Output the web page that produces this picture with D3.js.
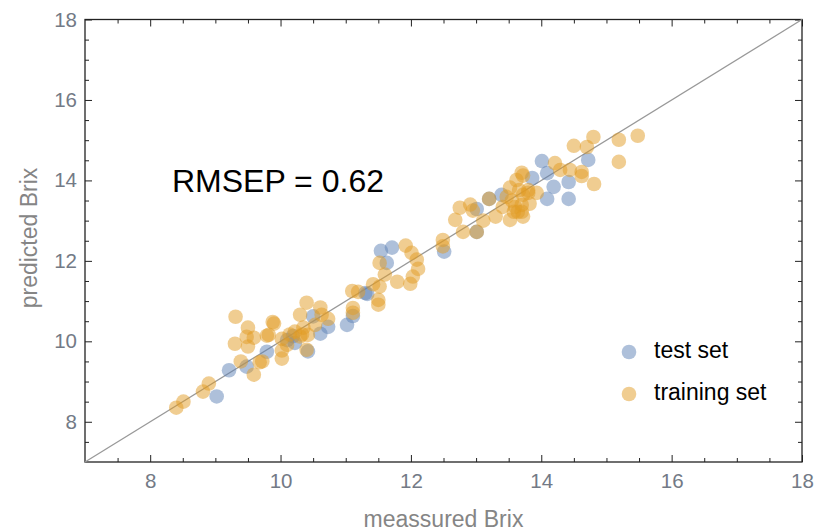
<!DOCTYPE html>
<html>
<head>
<meta charset="utf-8">
<script src="https://cdn.jsdelivr.net/npm/d3@7"></script>
<style>
  html, body { margin: 0; padding: 0; background: #fff; }
  svg { display: block; font-family: "Liberation Sans", Arial, sans-serif; }
</style>
</head>
<body>
<svg id="chart" width="825" height="531"></svg>
<script>
// ---- data ----
const testSet = [
  [9.02,8.63],[9.21,9.28],[9.48,9.37],[9.79,9.74],[10.10,10.03],[10.19,10.13],[10.22,9.96],
  [10.42,9.75],[10.50,10.62],[10.61,10.19],[10.73,10.36],[11.02,10.41],[11.11,10.63],
  [11.30,11.20],[11.33,11.18],[11.63,11.95],[11.54,12.25],[11.71,12.33],[12.51,12.23],
  [13.01,12.72],[13.01,13.29],[13.20,13.54],[13.39,13.64],[13.86,14.06],[14.01,14.48],
  [14.09,14.18],[14.09,13.54],[14.19,13.84],[14.42,13.96],[14.42,13.54],[14.72,14.51]
];
const trainingSet = [
  [8.40,8.35],[8.51,8.50],[8.81,8.75],[8.90,8.95],
  [9.31,10.61],[9.30,9.94],[9.50,10.34],[9.50,9.87],[9.48,10.11],[9.59,10.09],
  [9.39,9.50],[9.59,9.17],[9.68,9.48],[9.72,9.50],[9.79,10.14],[9.82,10.16],
  [9.88,10.48],[9.90,10.44],[10.02,10.06],[10.02,9.77],[10.02,9.57],[10.10,9.91],
  [10.22,10.24],[10.30,10.66],[10.33,10.17],[10.30,10.12],[10.35,10.34],[10.40,10.96],
  [10.42,10.16],[10.40,9.79],[10.53,10.41],[10.61,10.84],[10.63,10.66],[10.73,10.56],[10.14,10.17],
  [11.10,11.25],[11.19,11.23],[11.11,10.83],[11.11,10.71],
  [11.42,11.42],[11.52,11.36],[11.50,11.03],[11.50,10.91],[11.60,11.66],[11.52,11.95],
  [11.79,11.48],[11.99,11.43],[12.03,11.61],[11.92,12.38],[12.01,12.20],[12.09,12.03],[12.11,11.80],
  [12.49,12.52],[12.49,12.36],
  [12.68,13.02],[12.80,12.72],[12.75,13.32],[12.91,13.40],[12.95,13.25],[13.01,12.72],[13.11,13.00],[13.20,13.54],
  [13.30,13.10],[13.41,13.34],[13.47,13.59],[13.52,13.82],[13.52,13.02],[13.58,13.22],[13.60,13.34],[13.62,14.01],
  [13.70,14.19],[13.72,14.12],[13.80,13.76],[13.72,13.64],[13.70,13.39],[13.82,13.42],[13.70,13.22],[13.64,13.22],
  [13.93,13.69],[13.72,13.10],[13.80,13.69],[13.66,13.76],[13.55,13.50],
  [14.21,14.43],[14.29,14.26],[14.44,14.26],[14.50,14.86],[14.80,15.08],[14.70,14.83],[14.62,14.21],[14.62,14.11],
  [14.81,13.91],[15.19,15.01],[15.48,15.11],[15.19,14.46]
];
const xMajorTicks = [8, 10, 12, 14, 16, 18];
const yMajorTicks = [8, 10, 12, 14, 16, 18];
const axisDomain = [7, 18];
const seriesNames = ["test set", "training set"];
const seriesColors = ["#5e81b5", "#e19c24"];
const annotation = "RMSEP = 0.62";
const xTitle = "meassured Brix";
const yTitle = "predicted Brix";

// ---- layout ----
const svg = d3.select("#chart");
const L = 85, R = 802, T = 19.5, B = 462;
const x = d3.scaleLinear().domain(axisDomain).range([L, R]);
const y = d3.scaleLinear().domain(axisDomain).range([B, T]);
const minor = d3.range(7.5, 18, 0.5).filter(v => v % 2 !== 0);

const tickColor = "#222";
const labelColor = "#737a86";

function styleAxis(g) {
  g.select(".domain").remove();
  g.selectAll(".tick line").attr("stroke", tickColor).attr("stroke-width", 1);
  g.selectAll(".tick text").attr("fill", labelColor).attr("font-size", 20.5)
    .attr("font-family", "Liberation Sans, Arial, sans-serif");
}

// minor ticks on all four sides (pointing inward)
svg.append("g").attr("transform", `translate(0,${B})`)
  .call(d3.axisBottom(x).tickValues(minor).tickSize(-4).tickFormat("")).call(styleAxis);
svg.append("g").attr("transform", `translate(0,${T})`)
  .call(d3.axisTop(x).tickValues(minor).tickSize(-4).tickFormat("")).call(styleAxis);
svg.append("g").attr("transform", `translate(${L},0)`)
  .call(d3.axisLeft(y).tickValues(minor).tickSize(-4).tickFormat("")).call(styleAxis);
svg.append("g").attr("transform", `translate(${R},0)`)
  .call(d3.axisRight(y).tickValues(minor).tickSize(-4).tickFormat("")).call(styleAxis);

// major ticks
svg.append("g").attr("transform", `translate(0,${B})`)
  .call(d3.axisBottom(x).tickValues(xMajorTicks).tickSize(-7).tickPadding(11).tickFormat(d3.format("d")))
  .call(styleAxis);
svg.append("g").attr("transform", `translate(0,${T})`)
  .call(d3.axisTop(x).tickValues(xMajorTicks).tickSize(-7).tickFormat("")).call(styleAxis);
svg.append("g").attr("transform", `translate(${L},0)`)
  .call(d3.axisLeft(y).tickValues(yMajorTicks).tickSize(-7).tickPadding(8).tickFormat(d3.format("d")))
  .call(styleAxis);
svg.append("g").attr("transform", `translate(${R},0)`)
  .call(d3.axisRight(y).tickValues(yMajorTicks).tickSize(-7).tickFormat("")).call(styleAxis);

// frame
svg.append("rect").attr("x", L).attr("y", T).attr("width", R - L).attr("height", B - T)
  .attr("fill", "none").attr("stroke", tickColor).attr("stroke-width", 1.3);

// diagonal reference line
svg.append("line")
  .attr("x1", x(axisDomain[0])).attr("y1", y(axisDomain[0]))
  .attr("x2", x(axisDomain[1])).attr("y2", y(axisDomain[1]))
  .attr("stroke", "#999").attr("stroke-width", 1.3);

// points
const r = 7.3, op = 0.5;
[testSet, trainingSet].forEach((data, i) => {
  svg.append("g").selectAll("circle").data(data).join("circle")
    .attr("cx", d => x(d[0])).attr("cy", d => y(d[1])).attr("r", r)
    .attr("fill", seriesColors[i]).attr("fill-opacity", op);
});

// annotation
svg.append("text").attr("x", 172).attr("y", 192).attr("font-size", 32).attr("fill", "#000")
  .text(annotation);

// legend
seriesNames.forEach((name, i) => {
  const cy = 352 + i * 42;
  svg.append("circle").attr("cx", 629).attr("cy", cy).attr("r", r)
    .attr("fill", seriesColors[i]).attr("fill-opacity", op);
  svg.append("text").attr("x", 654).attr("y", cy + 6).attr("font-size", 23).attr("fill", "#000")
    .text(name);
});

// axis titles
svg.append("text").attr("x", (L + R) / 2).attr("y", 527).attr("text-anchor", "middle")
  .attr("font-size", 23).attr("fill", "#858585").text(xTitle);
svg.append("text").attr("transform", `translate(37,${238}) rotate(-90)`).attr("text-anchor", "middle")
  .attr("font-size", 23).attr("fill", "#858585").text(yTitle);
</script>
</body>
</html>
